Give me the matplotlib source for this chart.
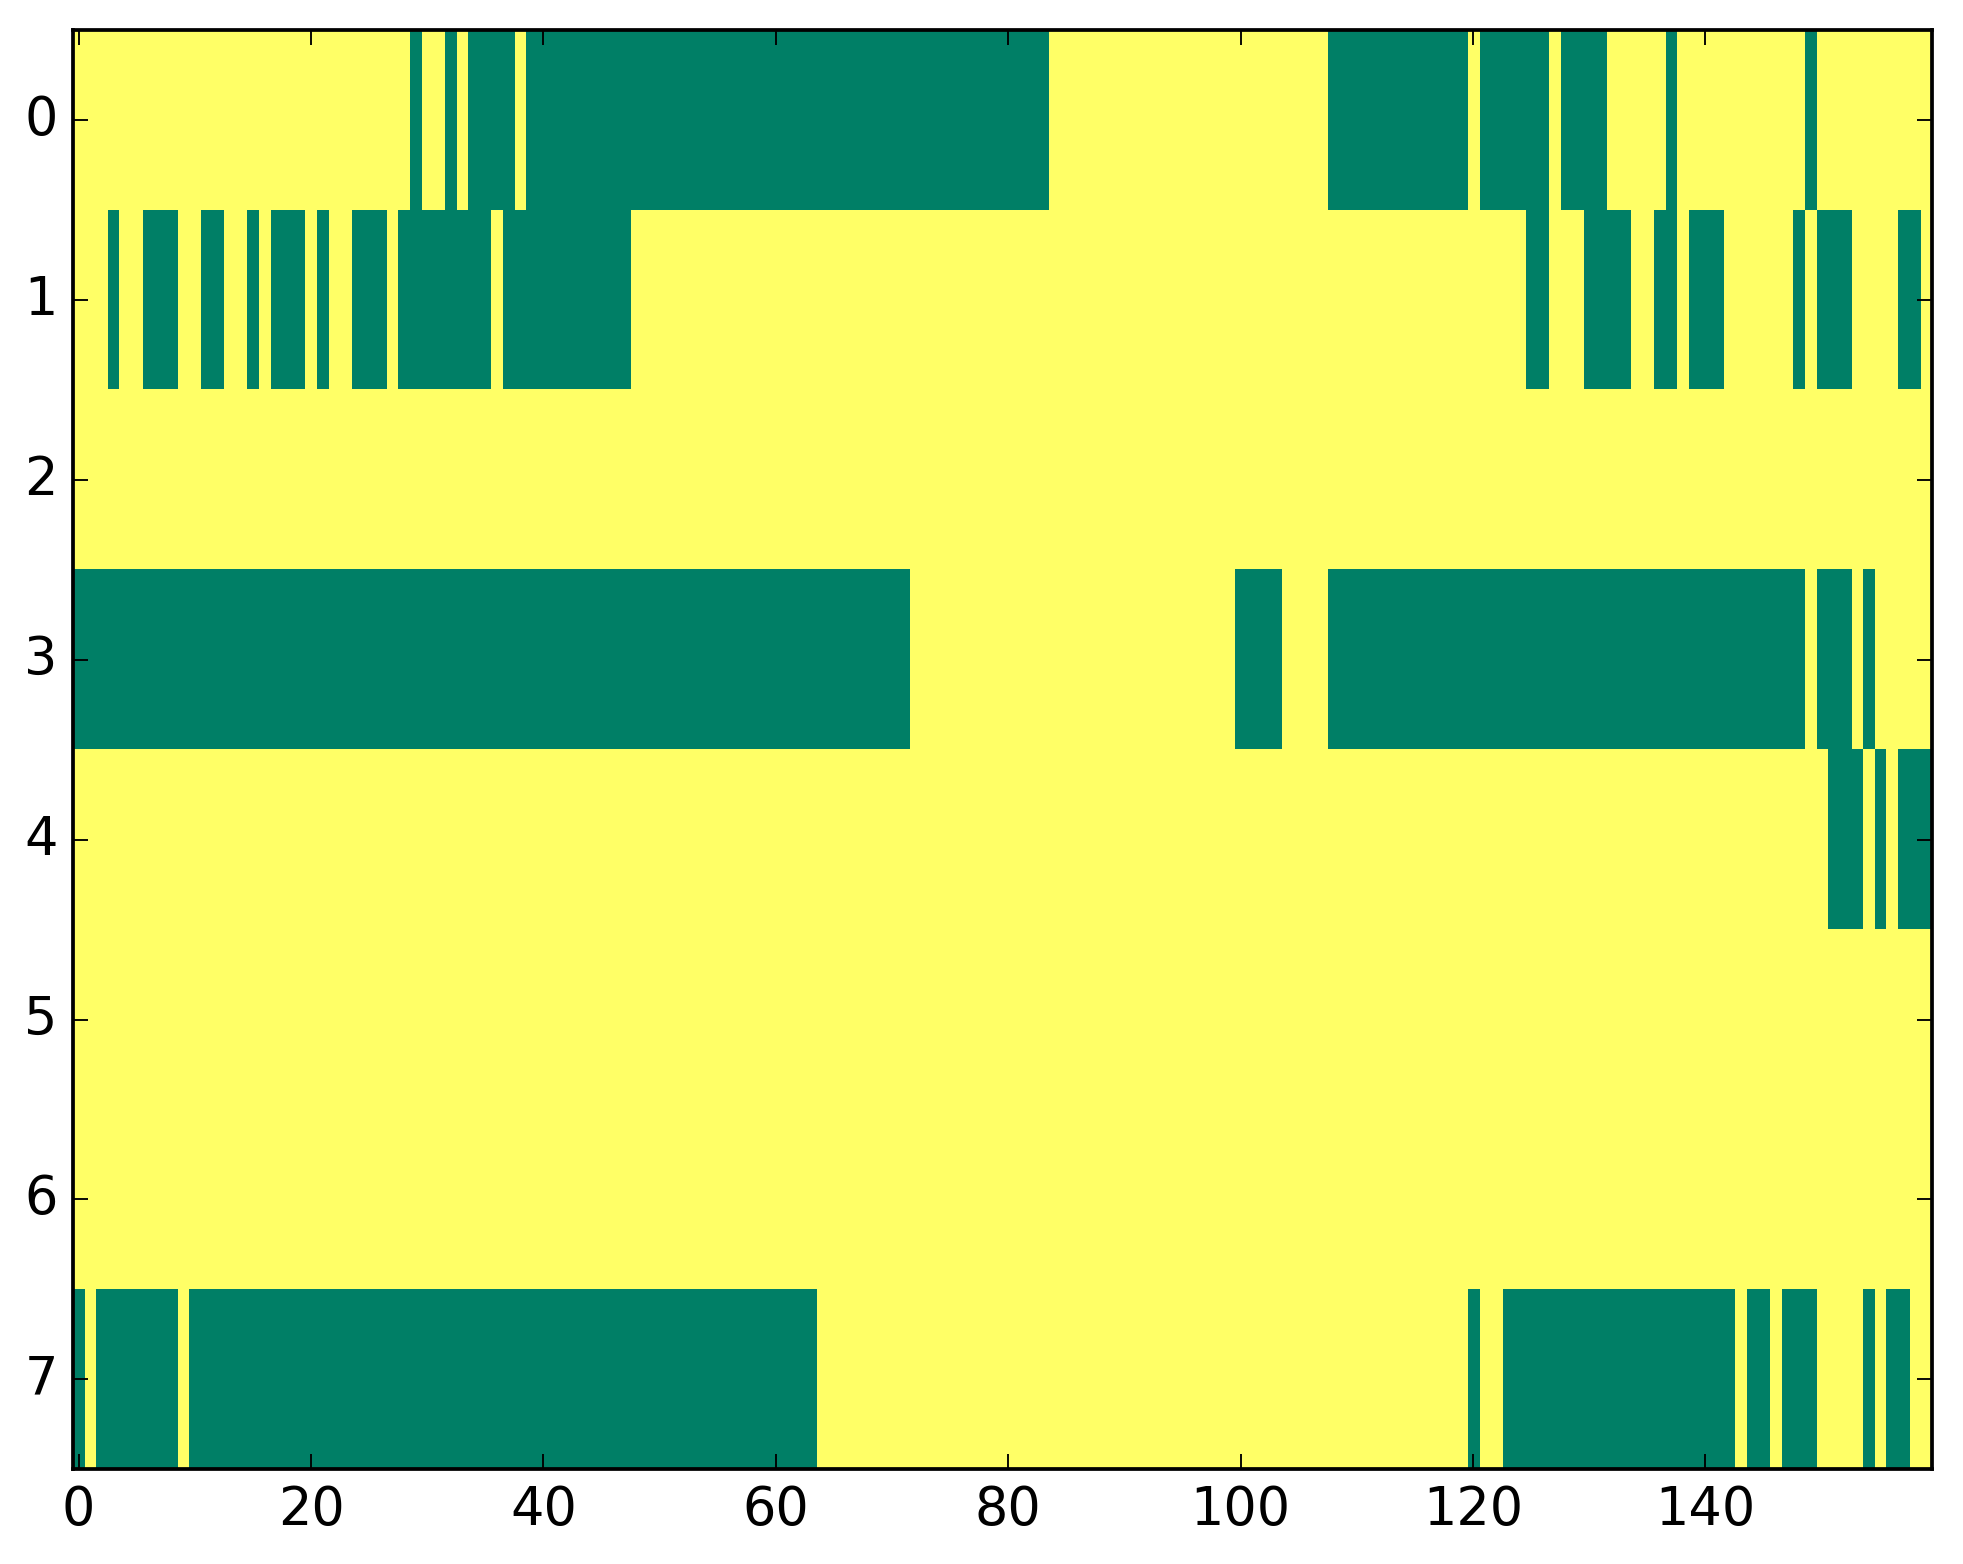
import numpy as np
import matplotlib
matplotlib.use("Agg")
import matplotlib.pyplot as plt

plt.style.use("classic")

n_rows = 8
n_cols = 160

# Column runs (inclusive) where the value is 0 (dark green); everything else is 1
row0_zero = [(29, 29), (32, 32), (34, 37), (39, 83), (108, 119), (121, 126), (128, 131), (137, 137), (149, 149)]
row1_zero = [(3, 3), (6, 8), (11, 12), (15, 15), (17, 19), (21, 21), (24, 26), (28, 35), (37, 47),
             (125, 126), (130, 133), (136, 137), (139, 141), (148, 148), (150, 152), (157, 158)]
row2_zero = []
row3_zero = [(0, 71), (100, 103), (108, 148), (150, 152), (154, 154)]
row4_zero = [(151, 153), (155, 155), (157, 159)]
row5_zero = []
row6_zero = []
row7_zero = [(0, 0), (2, 8), (10, 63), (120, 120), (123, 142), (144, 145), (147, 149), (154, 154), (156, 157)]

rows_zero = [row0_zero, row1_zero, row2_zero, row3_zero, row4_zero, row5_zero, row6_zero, row7_zero]

data = np.ones((n_rows, n_cols))
for r, runs in enumerate(rows_zero):
    for a, b in runs:
        data[r, a:b + 1] = 0

dpi = 270
fig = plt.figure(figsize=(1963 / dpi, 1564 / dpi), dpi=dpi, facecolor="white")
ax = fig.add_axes([0.0371, 0.0607, 0.9842 - 0.0371, 0.9805 - 0.0607])
ax.imshow(data, cmap="summer", aspect="auto", interpolation="nearest", vmin=0, vmax=1)
ax.set_xlim(-0.5, n_cols - 0.5)
ax.set_ylim(n_rows - 0.5, -0.5)
ax.set_xticks(np.arange(0, 141, 20))
ax.set_yticks(np.arange(0, 8))
ax.tick_params(labelsize=14)

fig.savefig("out.png", dpi=dpi, facecolor="white")
